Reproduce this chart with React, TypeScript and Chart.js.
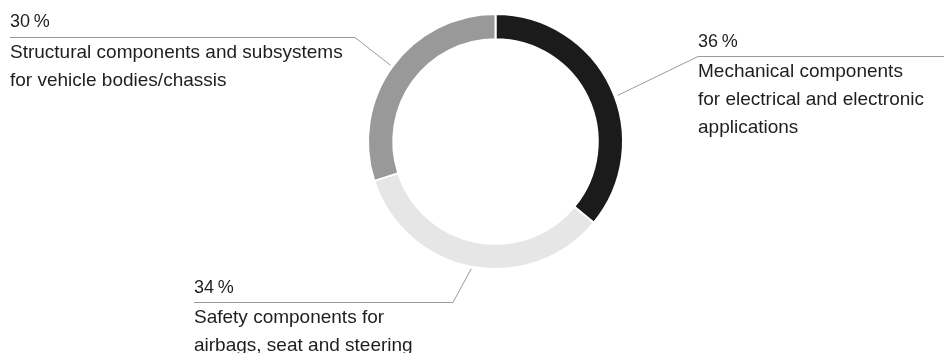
import React, { useEffect, useRef } from "react";
import { Chart, registerables } from "chart.js";

Chart.register(...registerables);

// ---- data ----
const categories = [
  "Mechanical components for electrical and electronic applications",
  "Safety components for airbags, seat and steering",
  "Structural components and subsystems for vehicle bodies/chassis",
];
const categoryLines = [
  ["Mechanical components", "for electrical and electronic", "applications"],
  ["Safety components for", "airbags, seat and steering"],
  ["Structural components and subsystems", "for vehicle bodies/chassis"],
];
const shares = [36, 34, 30];
const sliceColors = ["#1a1b1a", "#e5e6e5", "#999999"];

// ---- label layout (positions/styles) ----
const labelLayout = [
  { anchorFrac: 0.535, gap: 3, elbowX: 698, elbowY: 56, endX: 944, textX: 698 },
  { anchorFrac: 0.5, gap: 2, elbowX: 453, elbowY: 302, endX: 194, textX: 194 },
  { anchorFrac: 0.5, gap: 2, elbowX: 355, elbowY: 36.6, endX: 10, textX: 10 },
];

const FONT = '"Liberation Sans", Arial, Helvetica, sans-serif';

const leaderPlugin = {
  id: "leaderLabels",
  afterDraw(chart: any) {
    const meta = chart.getDatasetMeta(0);
    const ctx = chart.ctx;
    ctx.save();
    meta.data.forEach((arc: any, i: number) => {
      const L = labelLayout[i];
      const { x, y, startAngle, endAngle, outerRadius } = arc.getProps(
        ["x", "y", "startAngle", "endAngle", "outerRadius"],
        true
      );
      const a = startAngle + (endAngle - startAngle) * L.anchorFrac;
      const r = outerRadius + L.gap;
      const ax = x + Math.cos(a) * r;
      const ay = y + Math.sin(a) * r;
      const ly = Math.round(L.elbowY) + 0.5;
      ctx.strokeStyle = "#9a9a9a";
      ctx.lineWidth = 1;
      ctx.beginPath();
      ctx.moveTo(ax, ay);
      ctx.lineTo(L.elbowX, ly);
      ctx.lineTo(L.endX, ly);
      ctx.stroke();

      ctx.fillStyle = "#1e1e1e";
      ctx.textAlign = "left";
      ctx.textBaseline = "alphabetic";
      ctx.font = `18px ${FONT}`;
      ctx.fillText(`${shares[i]}\u2009%`, L.textX, L.elbowY - 9.5);
      ctx.font = `19px ${FONT}`;
      categoryLines[i].forEach((line, j) => {
        ctx.fillText(line, L.textX, L.elbowY + 21 + 28 * j);
      });
    });
    ctx.restore();
  },
};

export default function App() {
  const ref = useRef<HTMLCanvasElement>(null);
  useEffect(() => {
    const prev = document.body.style.margin;
    document.body.style.margin = "0";
    const chart = new Chart(ref.current!, {
      type: "doughnut",
      data: {
        labels: categories,
        datasets: [
          {
            data: shares,
            backgroundColor: sliceColors,
            borderColor: "#ffffff",
            borderWidth: 2,
            hoverOffset: 0,
          },
        ],
      },
      options: {
        responsive: false,
        maintainAspectRatio: false,
        animation: false,
        cutout: "80.2%",
        layout: { padding: { left: 47, right: 0, top: 13, bottom: 83 } },
        plugins: {
          legend: { display: false },
          tooltip: { enabled: false },
        },
        events: [],
      },
      plugins: [leaderPlugin],
    });
    return () => {
      chart.destroy();
      document.body.style.margin = prev;
    };
  }, []);
  return (
    <div style={{ position: "fixed", left: 0, top: 0, width: 944, height: 353, background: "#fff" }}>
      <canvas ref={ref} width={944} height={353} style={{ display: "block", width: 944, height: 353 }} />
    </div>
  );
}
